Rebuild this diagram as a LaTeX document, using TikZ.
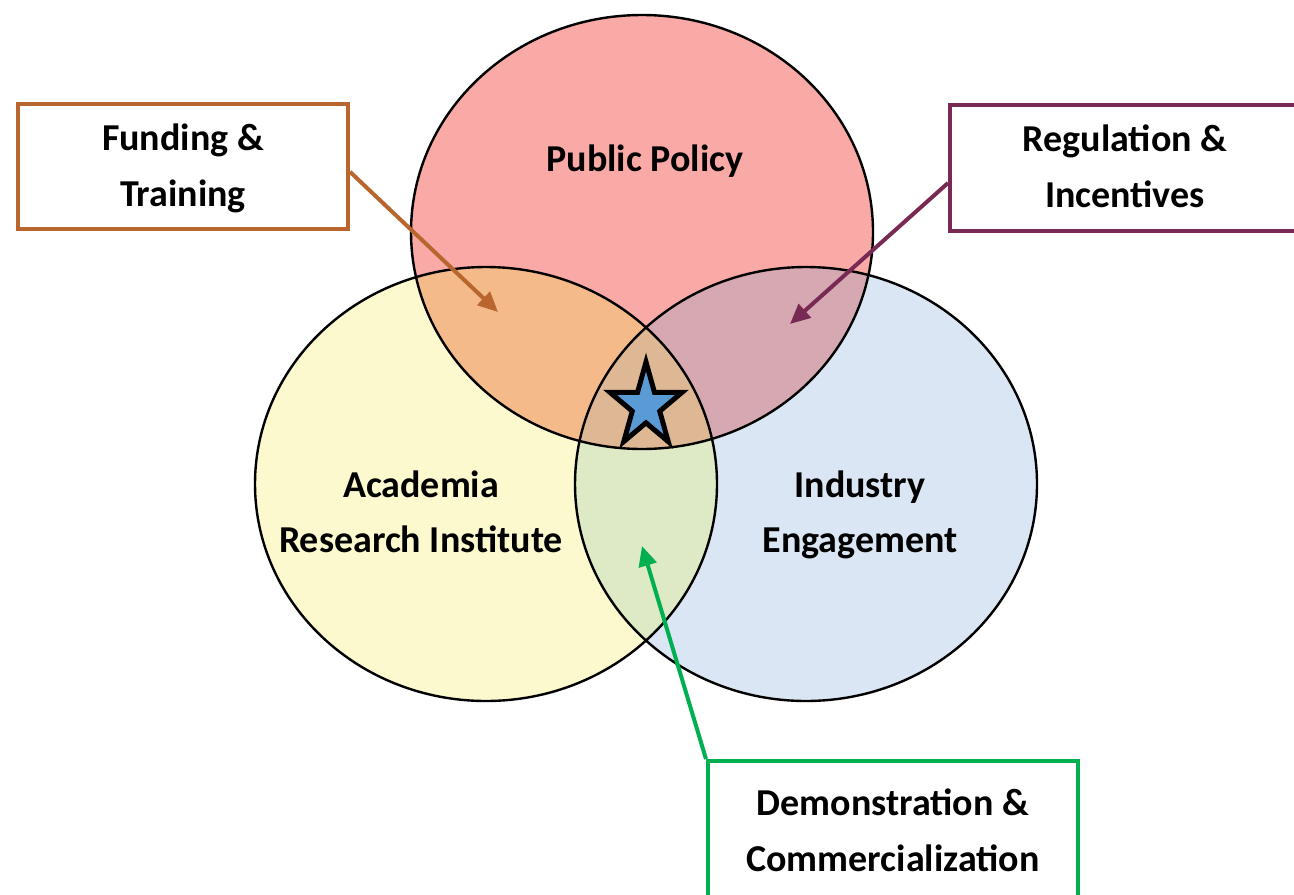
\documentclass[tikz,border=0pt]{standalone}
\usepackage{fontspec}
\setmainfont{Carlito}
\usetikzlibrary{positioning,shapes.geometric,arrows.meta}

\definecolor{policypink}{RGB}{249,169,166}
\definecolor{academiayellow}{RGB}{252,249,206}
\definecolor{industryblue}{RGB}{218,230,243}
\definecolor{fundingfill}{RGB}{244,186,138}
\definecolor{regulationfill}{RGB}{214,168,178}
\definecolor{demofill}{RGB}{222,233,198}
\definecolor{corefill}{RGB}{222,184,148}
\definecolor{fundbrown}{RGB}{184,102,46}
\definecolor{regpurple}{RGB}{120,42,85}
\definecolor{demogreen}{RGB}{0,176,80}
\definecolor{starblue}{RGB}{91,155,213}

\tikzset{
  venn/.style={ellipse, draw=black, line width=1.2pt, minimum width=231pt, minimum height=217pt, inner sep=0pt},
  vlabel/.style={align=center, font=\fontsize{19pt}{27.8pt}\selectfont\bfseries,
    execute at begin node=\strut, execute at end node=\strut},
  infobox/.style={draw=#1, line width=2pt, fill=white, align=center, inner sep=0pt,
    font=\fontsize{19pt}{27.8pt}\selectfont\bfseries, text height=45pt, text depth=5pt},
  pointer/.style={draw=#1, line width=2pt, -{Triangle[length=10pt,width=9pt]}},
}

\begin{document}
\begin{tikzpicture}[x=0.5pt, y=-0.5pt,
  policyarea/.style={insert path={(642,232) ellipse [x radius=115.5pt, y radius=108.5pt]}},
  academiaarea/.style={insert path={(486,484) ellipse [x radius=115.5pt, y radius=108.5pt]}},
  industryarea/.style={insert path={(806,484) ellipse [x radius=115.5pt, y radius=108.5pt]}},
]
\useasboundingbox (0,0) rectangle (1294,894);

% Fills %
\fill[academiayellow, academiaarea];
\fill[industryblue, industryarea];
\fill[policypink, policyarea];
\begin{scope}
  \clip[policyarea];
  \fill[fundingfill, academiaarea];
  \fill[regulationfill, industryarea];
\end{scope}
\begin{scope}
  \clip[academiaarea];
  \fill[demofill, industryarea];
\end{scope}
\begin{scope}
  \clip[policyarea];
  \clip[academiaarea];
  \fill[corefill, industryarea];
\end{scope}

% Circles %
\node[venn] (academia) at (486,484) {};
\node[venn] (industry) at (806,484) {};
\node[venn] (policy) at (642,232) {};

\node[vlabel] (policytext) at (645,160) {Public Policy};
\node[vlabel] (academiatext) at (421,520) {Academia\\Research Institute};
\node[vlabel] (industrytext) at (860,520) {Industry\\Engagement};

% Boxes %
\node[infobox=fundbrown, minimum width=165pt, minimum height=62.5pt] (funding) at (183,166) {Funding \&\\Training};
\node[infobox=regpurple, minimum width=175pt, minimum height=63pt] (regulation) at (1125,167.5) {Regulation \&\\Incentives};
\node[infobox=demogreen, minimum width=185pt, minimum height=70pt] (demo) at (893,831) {Demonstration \&\\Commercialization};

% Arrows %
\coordinate (fundtip) at (498,312);
\coordinate (regtip) at (790,324);
\coordinate (demotip) at (642,546);
\draw[pointer=fundbrown] (funding.-2) -- (fundtip);
\draw[pointer=regpurple] (regulation.185) -- (regtip);
\draw[pointer=demogreen] (demo.north west) -- (demotip);

% Star %
\begin{scope}[shift={(646,406)}, xscale=0.86]
  \node[star, star points=5, star point ratio=2.618, minimum size=44pt, inner sep=0pt,
    draw=black, line width=2.5pt, fill=starblue, transform shape] (hub) at (0,0) {};
\end{scope}

\end{tikzpicture}
\end{document}
